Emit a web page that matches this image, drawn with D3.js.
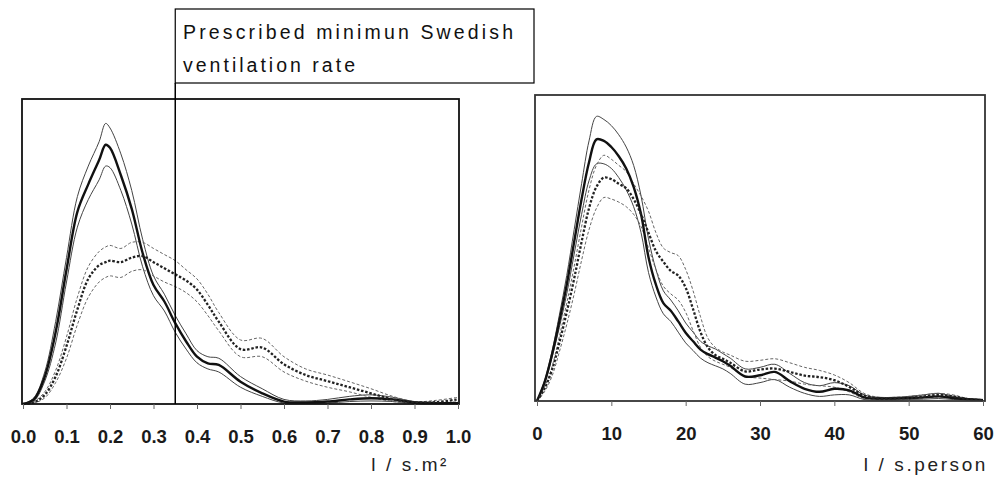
<!DOCTYPE html>
<meta charset="utf-8">
<style>
body { margin: 0; background: #fff; font-family: Arial, "Liberation Sans", sans-serif; }
.tick text { font-size: 18.5px; font-weight: bold; fill: #1a1a1a; }
.tick line { stroke: #666; }
.curve { fill: none; }
</style>
<body>
<div id="chart"></div>
<script src="https://d3js.org/d3.v7.min.js"></script>
<script>

// ---- data (relative frequency, arbitrary units) ----
var leftX = [0,0.025,0.05,0.075,0.1,0.125,0.15,0.175,0.19,0.2,0.225,0.25,0.275,0.3,0.325,0.35,0.375,0.4,0.425,0.45,0.5,0.55,0.6,0.65,0.7,0.75,0.8,0.85,0.9,0.95,1.0];
var leftSolidMid = [0,1.5,9,23.5,44,63,72,80,85,84,75,64,49.5,39,33.6,26.5,20.5,15.5,13.3,12.8,7.3,3.5,0.8,0.5,0.8,1.5,1.9,1.5,0.5,0.3,0.3];
var leftSolidHi  = [0,2,10.5,27,48,68,78,86,92,90.5,82,70,54,42,36,29,23,17.5,15.5,15,9,5,1.5,1,1.5,2.5,3,2.2,0.8,0.5,0.5];
var leftSolidLo  = [0,1,7.5,20,40,58,67,73.5,78,77.5,70,59,45,35.5,30.5,23.5,18,13.5,11.5,10.5,5.5,2.5,0.3,0.2,0.3,0.8,1,0.8,0.2,0.1,0.1];
var leftDashMid  = [0,0.5,3,9,19,31,41,45.5,46.5,47,46.5,48,48.5,46.5,44.5,42.5,40.5,37.5,32.5,27,18,18.5,13,9.5,7.5,5.5,3.5,1.5,0.5,0.6,1.5];
var leftDashHi   = [0,0.8,4,11,22,35,45,50,51.5,52,51,53,53,51,49,47,44,41,36,30,21,21.5,15.5,11.5,9.5,7.3,5,2.5,0.8,1.2,2.2];
var leftDashLo   = [0,0.3,2,7,15,26,35,40,41.5,42,41.5,43.5,44,42,40,38.5,36.5,33.5,29,24,15.5,15.5,10.5,7.5,5.5,4,2.2,0.8,0.2,0.2,0.8];

var rightX = [0,1,2,3,4,5,6,7,8,9,10,11,12,13,14,15,16,17,18,19,20,21,22,23,24,25,26,28,30,32,34,36,38,40,42,44,46,48,50,52,54,56,58,60];
var rightSolidMid = [0,6,15,26,38,52,66,78,85.5,85,83,80,76,70,61,47,38,32,29.5,26,22.3,19.5,16.8,15.3,14.2,13,11.5,8,8.4,9.5,6.5,4,3,4,3.5,1.2,0.8,0.8,1,1.2,1.5,1,0.6,0.3];
var rightSolidHi  = [0,6.5,16,28,41,56,71,85,93,92,90,87,83,77,67,53,43,36,33,29.5,25.5,22.5,19.5,18,17,15.5,14,10.5,11,12,9,6,5,6,5,2,1.2,1.2,1.5,2,2.5,1.5,0.8,0.5];
var rightSolidLo  = [0,5.5,14,24,35,48,61,72,77.5,77.5,76,73,69,63.5,55,42,34,28.5,26,22.5,19,16.5,14,12.5,11.5,10.5,9,5.5,6,7,4.5,2.5,1.5,2,2,0.5,0.3,0.3,0.5,0.6,0.8,0.5,0.3,0.2];
var rightDashMid  = [0,4,10,19,29,40,52,63,70,73,72.5,71,69.5,66,61,55,49,45.5,42.5,41,37,30,22.5,17.5,15,13.8,12.5,9.7,10.3,10.6,9.5,8.3,7.8,6.8,4.6,1.8,0.8,0.8,1,1.5,2,1.5,0.6,0.3];
var rightDashHi   = [0,4.5,11,21,32,44,57,69,77,80.3,79,77,75,71,67,62,55,50,48.5,47.5,43,36,27.5,20.5,17.5,16,15,13,13.3,13.8,12.5,11,10,8.5,6,2.5,1.2,1.2,1.5,2,2.5,2,0.8,0.5];
var rightDashLo   = [0,3,8,16,25,35,46,56,63,66.5,66,65,63.5,61,57,50,43,37.5,35,33,29,23,17.5,14.5,13,12,11,8,7.5,7,6.5,5.5,5,4.5,3,0.8,0.4,0.4,0.5,1,1.3,1,0.3,0.2];

var leftTicks = [0,0.1,0.2,0.3,0.4,0.5,0.6,0.7,0.8,0.9,1.0];
var rightTicks = [0,10,20,30,40,50,60];
var minRate = 0.35;
var noteLines = ["Prescribed minimun Swedish", "ventilation rate"];

var width = 999, height = 477;

var svg = d3.select("#chart").append("svg")
    .attr("width", width)
    .attr("height", height);

// line styles: thick = mean, thin = bounds
var styles = {
  solidMid: {w: 2.4, c: "#111", dash: null},
  solidBnd: {w: 1, c: "#444", dash: null},
  dashMid:  {w: 2.3, c: "#222", dash: "2.5,1.8"},
  dashBnd:  {w: 1, c: "#666", dash: "3,2"}
};

function drawPanel(opt) {
  var x = d3.scaleLinear().domain(opt.xDomain).range([opt.x0, opt.x1]);
  var y = d3.scaleLinear().domain([0, 100]).range([opt.bottom, opt.top]);
  var g = svg.append("g");

  var line = d3.line()
      .x(function(d) { return x(d[0]); })
      .y(function(d) { return y(d[1]); })
      .curve(d3.curveCatmullRom.alpha(0.5));

  opt.series.forEach(function(s) {
    var pts = opt.xs.map(function(v, i) { return [v, s.values[i]]; });
    g.append("path")
      .attr("class", "curve")
      .attr("d", line(pts))
      .attr("stroke", s.style.c)
      .attr("stroke-width", s.style.w)
      .attr("stroke-dasharray", s.style.dash);
  });

  // frame
  g.append("rect")
    .attr("x", opt.boxX0).attr("y", opt.top)
    .attr("width", opt.boxX1 - opt.boxX0)
    .attr("height", opt.bottom - opt.top)
    .attr("fill", "none")
    .attr("stroke", opt.frame)
    .attr("stroke-width", 1.8);

  var axis = svg.append("g")
    .attr("transform", "translate(0," + opt.bottom + ")")
    .call(d3.axisBottom(x).tickValues(opt.ticks).tickFormat(opt.fmt).tickSize(5).tickPadding(21));
  axis.select(".domain").remove();

  svg.append("text")
    .attr("x", opt.titleX)
    .attr("y", 471)
    .attr("text-anchor", "end")
    .style("font-size", "19px")
    .style("letter-spacing", "2.6px")
    .style("fill", "#222")
    .text(opt.title);

  return {x: x, y: y};
}

var left = drawPanel({
  xDomain: [0, 1], x0: 23, x1: 458, boxX0: 22, boxX1: 459, top: 99, bottom: 404,
  xs: leftX, ticks: leftTicks, fmt: d3.format(".1f"), frame: "#111",
  title: "l / s.m\u00b2", titleX: 449,
  series: [
    {values: leftSolidHi, style: styles.solidBnd},
    {values: leftSolidLo, style: styles.solidBnd},
    {values: leftDashHi, style: styles.dashBnd},
    {values: leftDashLo, style: styles.dashBnd},
    {values: leftSolidMid, style: styles.solidMid},
    {values: leftDashMid, style: styles.dashMid}
  ]
});

drawPanel({
  xDomain: [0, 60], x0: 537, x1: 983, boxX0: 535, boxX1: 985, top: 95, bottom: 401,
  xs: rightX, ticks: rightTicks, fmt: d3.format("d"), frame: "#333",
  title: "l / s.person", titleX: 988,
  series: [
    {values: rightSolidHi, style: styles.solidBnd},
    {values: rightSolidLo, style: styles.solidBnd},
    {values: rightDashHi, style: styles.dashBnd},
    {values: rightDashLo, style: styles.dashBnd},
    {values: rightSolidMid, style: styles.solidMid},
    {values: rightDashMid, style: styles.dashMid}
  ]
});

// minimum ventilation rate marker + note box
var mx = left.x(minRate);
svg.append("line")
  .attr("x1", mx).attr("x2", mx)
  .attr("y1", 83).attr("y2", 404)
  .attr("stroke", "#000").attr("stroke-width", 1.5);

svg.append("rect")
  .attr("x", mx).attr("y", 9)
  .attr("width", 534 - mx).attr("height", 74)
  .attr("fill", "#fff").attr("stroke", "#000").attr("stroke-width", 1.2);

svg.selectAll(".note")
  .data(noteLines)
  .enter().append("text")
  .attr("class", "note")
  .attr("x", 183)
  .attr("y", function(d, i) { return 39 + i * 33; })
  .attr("textLength", function(d, i) { return i === 0 ? 330 : 172; })
  .attr("lengthAdjust", "spacing")
  .style("font-size", "19.5px")
  .style("fill", "#111")
  .text(function(d) { return d; });

</script>
</body>
